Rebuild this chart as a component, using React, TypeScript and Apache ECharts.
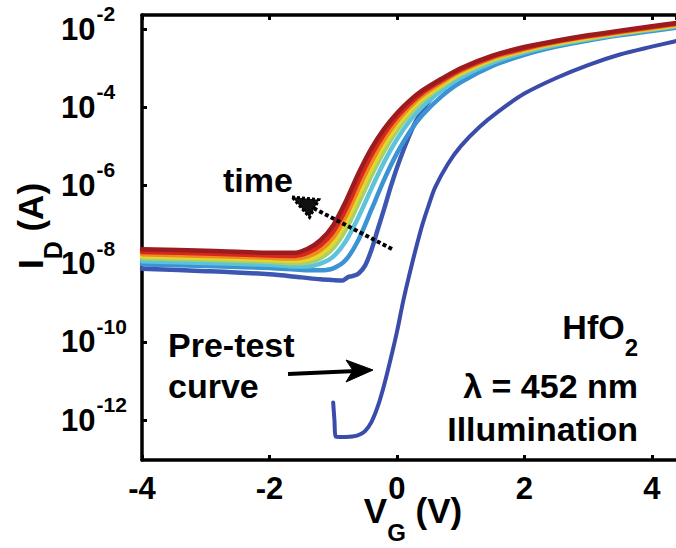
import React, { useEffect, useRef } from 'react';
import * as echarts from 'echarts';

// Gate voltage grid (V) shared by the time-series curves
const vgTime = [-4, -3, -2, -1.6, -1.4, -1.2, -1.0, -0.8, -0.6, -0.4, -0.2, 0, 0.2, 0.4, 0.7, 1.0, 1.5, 2.0, 2.5, 3.0, 3.5, 4.0, 4.4];

// log10(I_D / A) for each time curve (latest = dark red)
const logDarkRed = [-7.63, -7.67, -7.72, -7.72, -7.62, -7.40, -7.02, -6.40, -5.68, -5.05, -4.55, -4.15, -3.83, -3.57, -3.27, -3.0, -2.68, -2.46, -2.30, -2.16, -2.04, -1.93, -1.84];
const logRed = [-7.70, -7.74, -7.79, -7.80, -7.72, -7.53, -7.18, -6.60, -5.88, -5.22, -4.68, -4.25, -3.91, -3.63, -3.32, -3.04, -2.71, -2.49, -2.32, -2.18, -2.06, -1.95, -1.86];
const logOrange = [-7.76, -7.80, -7.85, -7.87, -7.81, -7.65, -7.33, -6.78, -6.07, -5.40, -4.82, -4.36, -3.99, -3.70, -3.37, -3.08, -2.74, -2.52, -2.34, -2.20, -2.08, -1.97, -1.88];
const logYellow = [-7.81, -7.85, -7.90, -7.93, -7.89, -7.76, -7.47, -6.95, -6.25, -5.57, -4.96, -4.47, -4.08, -3.77, -3.42, -3.12, -2.77, -2.54, -2.36, -2.22, -2.10, -1.99, -1.90];
const logGreen = [-7.86, -7.90, -7.95, -7.99, -7.97, -7.86, -7.60, -7.12, -6.45, -5.75, -5.12, -4.59, -4.17, -3.84, -3.47, -3.16, -2.80, -2.56, -2.38, -2.24, -2.11, -2.00, -1.91];
const logCyan = [-7.94, -7.98, -8.03, -8.07, -8.07, -8.00, -7.82, -7.42, -6.80, -6.08, -5.40, -4.82, -4.35, -3.98, -3.57, -3.24, -2.86, -2.60, -2.41, -2.26, -2.13, -2.02, -1.93];
const logLightBlue = [-8.02, -8.06, -8.11, -8.15, -8.17, -8.17, -8.12, -7.90, -7.38, -6.62, -5.85, -5.18, -4.63, -4.20, -3.72, -3.36, -2.94, -2.66, -2.45, -2.29, -2.16, -2.05, -1.96];

// Earliest post-illumination curve (with the small kink)
const vgBlue = [-4, -3, -2, -1.5, -1.2, -1.0, -0.85, -0.8, -0.75, -0.7, -0.6, -0.5, -0.4, -0.3, -0.2, -0.1, 0, 0.15, 0.3, 0.5, 0.7, 1.0, 1.5, 2.0, 2.5, 3.0, 3.5, 4.0, 4.4];
const logBlue = [-8.13, -8.19, -8.27, -8.35, -8.40, -8.42, -8.43, -8.38, -8.33, -8.32, -8.25, -8.05, -7.65, -7.12, -6.60, -6.05, -5.55, -4.90, -4.35, -3.85, -3.50, -3.13, -2.75, -2.50, -2.33, -2.20, -2.08, -1.98, -1.90];

// Pre-test curve
const vgPre = [-1.0, -0.98, -0.96, -0.9, -0.8, -0.7, -0.6, -0.5, -0.4, -0.3, -0.2, -0.1, 0, 0.1, 0.2, 0.3, 0.4, 0.5, 0.6, 0.8, 1.0, 1.3, 1.6, 2.0, 2.5, 3.0, 3.5, 4.0, 4.4];
const logPre = [-11.55, -12.0, -12.42, -12.43, -12.43, -12.42, -12.38, -12.28, -12.05, -11.65, -11.10, -10.45, -9.75, -8.95, -8.25, -7.60, -7.00, -6.50, -6.05, -5.45, -5.00, -4.50, -4.10, -3.65, -3.25, -2.92, -2.65, -2.45, -2.30];

const yTickExponents = [-12, -10, -8, -6, -4, -2];

const FONT = '"Liberation Sans", Arial, Helvetica, sans-serif';

const timeCurves = [
  { name: 'lightBlue', data: logLightBlue, color: '#3b93d3' },
  { name: 'cyan', data: logCyan, color: '#5cc3db' },
  { name: 'green', data: logGreen, color: '#a5d16c' },
  { name: 'yellow', data: logYellow, color: '#e6d62c' },
  { name: 'orange', data: logOrange, color: '#f08a1c' },
  { name: 'red', data: logRed, color: '#d5281f' },
  { name: 'darkRed', data: logDarkRed, color: '#9c1b1e' },
];

export default function App() {
  const ref = useRef<HTMLDivElement>(null);
  useEffect(() => {
    if (!ref.current) return;
    const chart = echarts.init(ref.current, undefined, { renderer: 'svg' });

    const pair = (xs: number[], ys: number[]) => xs.map((x, i) => [x, ys[i]]);

    const lineSeries = (name: string, data: number[][], color: string, width: number) => ({
      name,
      type: 'line',
      data,
      showSymbol: false,
      symbol: 'none',
      smooth: 0.3,
      lineStyle: { color, width, cap: 'round', join: 'round' },
      z: 2,
    });

    const series: any[] = [
      lineSeries('pretest', pair(vgPre, logPre), '#3a4ba9', 4),
      lineSeries('blue', pair(vgBlue, logBlue), '#3c56b1', 4.5),
      ...timeCurves.map((c) => lineSeries(c.name, pair(vgTime, c.data), c.color, 4.5)),
    ];

    const axisLineStyle = { color: '#000', width: 3.5 };

    // time arrow geometry
    const tip = [292, 197];
    const tail = [392, 249];
    const dx = tail[0] - tip[0];
    const dy = tail[1] - tip[1];
    const len = Math.hypot(dx, dy);
    const ux = dx / len, uy = dy / len;
    const backC = [tip[0] + ux * 25, tip[1] + uy * 25];
    const px = uy, py = -ux;

    chart.setOption({
      animation: false,
      grid: { left: 142, right: 0, top: 15, bottom: 88, containLabel: false, outerBoundsMode: 'none' },
      xAxis: [
        {
          type: 'value',
          min: -4,
          max: 4.38,
          interval: 2,
          axisLine: { show: true, onZero: false, lineStyle: axisLineStyle },
          axisTick: { show: true, inside: true, length: 5, lineStyle: { color: '#000', width: 3 } },
          splitLine: { show: false },
          axisLabel: {
            show: true,
            margin: 13,
            fontSize: 31,
            fontWeight: 'bold',
            fontFamily: FONT,
            color: '#000',
            showMaxLabel: false,
            formatter: (v: number) => (Math.abs(v - Math.round(v)) < 1e-6 ? String(Math.round(v)) : ''),
          },
        },
        {
          type: 'value',
          position: 'top',
          min: -4,
          max: 4.38,
          interval: 2,
          axisLine: { show: true, onZero: false, lineStyle: axisLineStyle },
          axisTick: { show: true, inside: true, length: 5, lineStyle: { color: '#000', width: 3 } },
          splitLine: { show: false },
          axisLabel: { show: false },
        },
      ],
      yAxis: {
        type: 'value',
        min: -13.02,
        max: -1.64,
        splitNumber: 5,
        axisLine: { show: true, onZero: false, lineStyle: axisLineStyle },
        axisTick: { show: true, inside: true, length: 5, lineStyle: { color: '#000', width: 3 } },
        splitLine: { show: false },
        axisLabel: {
          show: true,
          margin: 81,
          align: 'left',
          showMinLabel: false,
          showMaxLabel: false,
          formatter: (v: number) => {
            const r = Math.round(v);
            if (Math.abs(v - r) < 1e-6 && yTickExponents.includes(r)) return `{b|10}{s|${r}}`;
            return '';
          },
          rich: {
            b: { fontSize: 31, fontWeight: 'bold', fontFamily: FONT, color: '#000', lineHeight: 31 },
            s: { fontSize: 21, fontWeight: 'bold', fontFamily: FONT, color: '#000', lineHeight: 21, padding: [0, 0, 31, 1] },
          },
        },
      },
      series,
      graphic: [
        // Axis titles
        {
          type: 'text',
          x: 413,
          y: 510,
          z: 10,
          style: {
            text: '{m|V}{s|G}{m| (V)}',
            textAlign: 'center',
            textVerticalAlign: 'middle',
            rich: {
              m: { fontSize: 35, fontWeight: 'bold', fontFamily: FONT, fill: '#000', lineHeight: 35 },
              s: { fontSize: 24, fontWeight: 'bold', fontFamily: FONT, fill: '#000', lineHeight: 24, padding: [44, 0, 0, 0] },
            },
          },
        },
        {
          type: 'text',
          x: 30,
          y: 226,
          rotation: Math.PI / 2,
          z: 10,
          style: {
            text: '{m|I}{s|D}{m| (A)}',
            textAlign: 'center',
            textVerticalAlign: 'middle',
            rich: {
              m: { fontSize: 35, fontWeight: 'bold', fontFamily: FONT, fill: '#000', lineHeight: 35 },
              s: { fontSize: 25, fontWeight: 'bold', fontFamily: FONT, fill: '#000', lineHeight: 25, padding: [46, 0, 0, 0] },
            },
          },
        },
        // Annotations
        {
          type: 'text', x: 223, y: 180, z: 10,
          style: { text: 'time', font: `bold 34px ${FONT}`, fill: '#000', textAlign: 'left', textVerticalAlign: 'middle' },
        },
        {
          type: 'text', x: 168, y: 345, z: 10,
          style: { text: 'Pre-test', font: `bold 34px ${FONT}`, fill: '#000', textAlign: 'left', textVerticalAlign: 'middle' },
        },
        {
          type: 'text', x: 168, y: 386, z: 10,
          style: { text: 'curve', font: `bold 34px ${FONT}`, fill: '#000', textAlign: 'left', textVerticalAlign: 'middle' },
        },
        {
          type: 'text', x: 638, y: 327, z: 10,
          style: {
            text: '{m|HfO}{s|2}',
            textAlign: 'right',
            textVerticalAlign: 'middle',
            rich: {
              m: { fontSize: 34, fontWeight: 'bold', fontFamily: FONT, fill: '#000', lineHeight: 34 },
              s: { fontSize: 24, fontWeight: 'bold', fontFamily: FONT, fill: '#000', lineHeight: 24, padding: [40, 0, 0, 0] },
            },
          },
        },
        {
          type: 'text', x: 638, y: 386, z: 10,
          style: { text: 'λ = 452 nm', font: `bold 34px ${FONT}`, fill: '#000', textAlign: 'right', textVerticalAlign: 'middle' },
        },
        {
          type: 'text', x: 638, y: 429, z: 10,
          style: { text: 'Illumination', font: `bold 34px ${FONT}`, fill: '#000', textAlign: 'right', textVerticalAlign: 'middle' },
        },
        // Pre-test arrow
        {
          type: 'line', z: 10,
          shape: { x1: 288, y1: 374, x2: 356, y2: 371 },
          style: { stroke: '#000', lineWidth: 4 },
        },
        {
          type: 'polygon', z: 10,
          shape: { points: [[373, 370], [346, 360], [353, 370.5], [346, 382]] },
          style: { fill: '#000', stroke: '#000', lineWidth: 1 },
        },
        // time arrow (dotted)
        {
          type: 'line', z: 10,
          shape: { x1: tail[0], y1: tail[1], x2: backC[0], y2: backC[1] },
          style: { stroke: '#000', lineWidth: 4, lineDash: [4, 2.5] },
        },
        {
          type: 'polygon', z: 10,
          shape: {
            points: [
              tip,
              [backC[0] + px * 10, backC[1] + py * 10],
              [backC[0] - px * 10, backC[1] - py * 10],
            ],
          },
          style: { fill: '#111', stroke: '#000', lineWidth: 3, lineDash: [3, 2] },
        },
      ],
    });
    return () => chart.dispose();
  }, []);

  return (
    <div
      ref={ref}
      style={{ position: 'fixed', left: 0, top: 0, width: 676, height: 548, background: '#fff' }}
    />
  );
}
